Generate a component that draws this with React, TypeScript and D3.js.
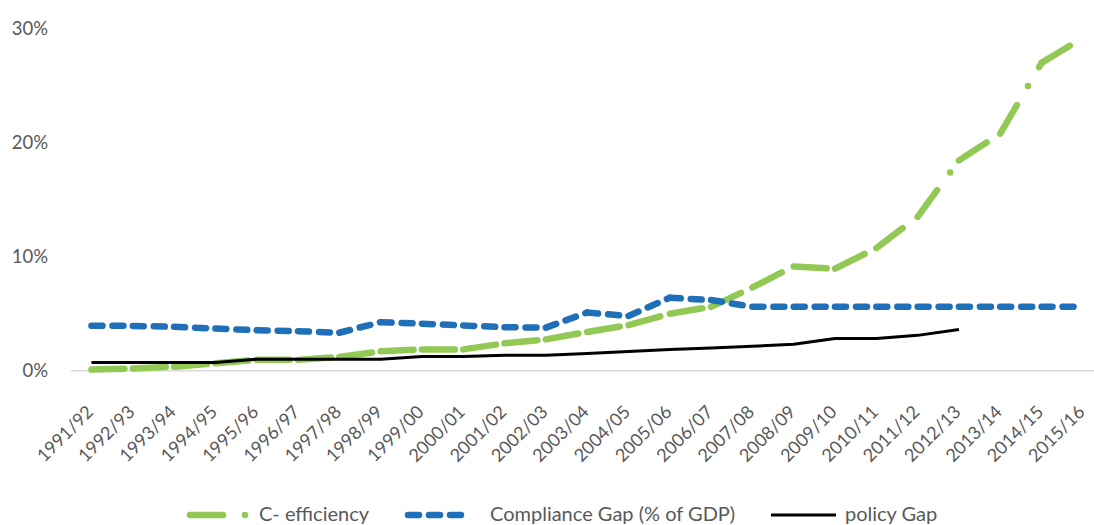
import React from "react";
import * as d3 from "d3";

const categories = [
  "1991/92", "1992/93", "1993/94", "1994/95", "1995/96", "1996/97", "1997/98",
  "1998/99", "1999/00", "2000/01", "2001/02", "2002/03", "2003/04", "2004/05",
  "2005/06", "2006/07", "2007/08", "2008/09", "2009/10", "2010/11", "2011/12",
  "2012/13", "2013/14", "2014/15", "2015/16",
];

// values in percent
const cEfficiency = [
  0.1, 0.2, 0.35, 0.65, 0.95, 0.95, 1.2, 1.7, 1.87, 1.87, 2.4, 2.75, 3.4, 4.0,
  5.0, 5.6, 7.3, 9.15, 8.95, 10.75, 13.5, 18.45, 20.8, 27.0, 29.2,
];
const complianceGap = [
  3.95, 3.93, 3.85, 3.7, 3.55, 3.47, 3.33, 4.26, 4.12, 3.97, 3.82, 3.78, 5.1,
  4.8, 6.4, 6.2, 5.6, 5.6, 5.6, 5.6, 5.6, 5.6, 5.6, 5.6, 5.6,
];
const policyGap = [
  0.72, 0.72, 0.72, 0.72, 1.0, 1.0, 1.0, 1.0, 1.25, 1.25, 1.35, 1.35, 1.5,
  1.68, 1.85, 2.0, 2.15, 2.32, 2.82, 2.82, 3.1, 3.62,
];
const yTicks = [0, 10, 20, 30];

const legendItems = [
  { label: "C-  efficiency", key: "c" },
  { label: "Compliance Gap (% of GDP)", key: "cg" },
  { label: "policy Gap", key: "pg" },
];

const W = 1094;
const H = 525;
const FONT = "Lato, 'Open Sans', sans-serif";
const TEXT = "#595959";
const GREEN = "#92C954";
const BLUE = "#1F6FB9";

const GREEN_DASH = "33 22 0 22";
const BLUE_DASH = "11 10";

export default function App() {
  const x = d3.scaleBand<string>().domain(categories).range([70.8, 1103.5]).padding(0);
  const cx = (c: string) => (x(c) as number) + x.bandwidth() / 2;
  const y = d3.scaleLinear().domain([0, 30]).range([370.7, 28.7]);

  const line = d3
    .line<[number, number]>()
    .x((d) => d[0])
    .y((d) => d[1]);

  const pts = (vals: number[]) =>
    vals.map((v, i) => [cx(categories[i]), y(v)] as [number, number]);

  // Dashed series restart their pattern at every data point
  const segments = (vals: number[]) => {
    const p = pts(vals);
    return d3.pairs(p).map((pair) => line(pair) as string);
  };

  const greenSegs = segments(cEfficiency);
  const blueSegs = segments(complianceGap);
  const blackPath = line(pts(policyGap)) as string;

  const legendY = 514;
  const legendSize = 20;

  return (
    <svg
      width={W}
      height={H}
      style={{ position: "absolute", left: 0, top: 0, background: "#fff" }}
      fontFamily={FONT}
    >
      <rect width={W} height={H} fill="#fff" />
      {/* baseline */}
      <line x1={71} x2={1104} y1={y(0)} y2={y(0)} stroke="#d9d9d9" strokeWidth={1.5} />

      {/* y axis labels */}
      {yTicks.map((t) => (
        <text
          key={t}
          x={48}
          y={y(t)}
          dy="0.35em"
          textAnchor="end"
          fontSize={18.5}
          fill={TEXT}
        >
          {t}%
        </text>
      ))}

      {/* x axis labels */}
      {categories.map((c) => (
        <text
          key={c}
          transform={`translate(${cx(c) + 3},${413}) rotate(-45)`}
          textAnchor="end"
          fontSize={18}
          fill={TEXT}
        >
          {c}
        </text>
      ))}

      {/* C-efficiency */}
      <g fill="none" stroke={GREEN} strokeWidth={6.5} strokeLinecap="round" strokeDasharray={GREEN_DASH}>
        {greenSegs.map((d, i) => (
          <path key={i} d={d} />
        ))}
      </g>

      {/* Compliance gap */}
      <g fill="none" stroke={BLUE} strokeWidth={6.5} strokeLinecap="round" strokeDasharray={BLUE_DASH}>
        {blueSegs.map((d, i) => (
          <path key={i} d={d} />
        ))}
      </g>

      {/* Policy gap */}
      <path d={blackPath} fill="none" stroke="#000" strokeWidth={3} strokeLinejoin="round" />

      {/* legend */}
      <g>
        <path
          d={`M190,${legendY + 1}H250`}
          stroke={GREEN}
          strokeWidth={6.5}
          strokeLinecap="round"
          strokeDasharray={GREEN_DASH}
          fill="none"
        />
        <text x={259} y={legendY} dy="0.35em" fontSize={legendSize} fill={TEXT}>
          {legendItems[0].label}
        </text>

        <path
          d={`M408,${legendY + 1}H471`}
          stroke={BLUE}
          strokeWidth={6.5}
          strokeLinecap="round"
          strokeDasharray={BLUE_DASH}
          fill="none"
        />
        <text x={490} y={legendY} dy="0.35em" fontSize={legendSize} fill={TEXT}>
          {legendItems[1].label}
        </text>

        <path d={`M771,${legendY + 1}H836`} stroke="#000" strokeWidth={3} fill="none" />
        <text x={845} y={legendY} dy="0.35em" fontSize={legendSize} fill={TEXT}>
          {legendItems[2].label}
        </text>
      </g>
    </svg>
  );
}
